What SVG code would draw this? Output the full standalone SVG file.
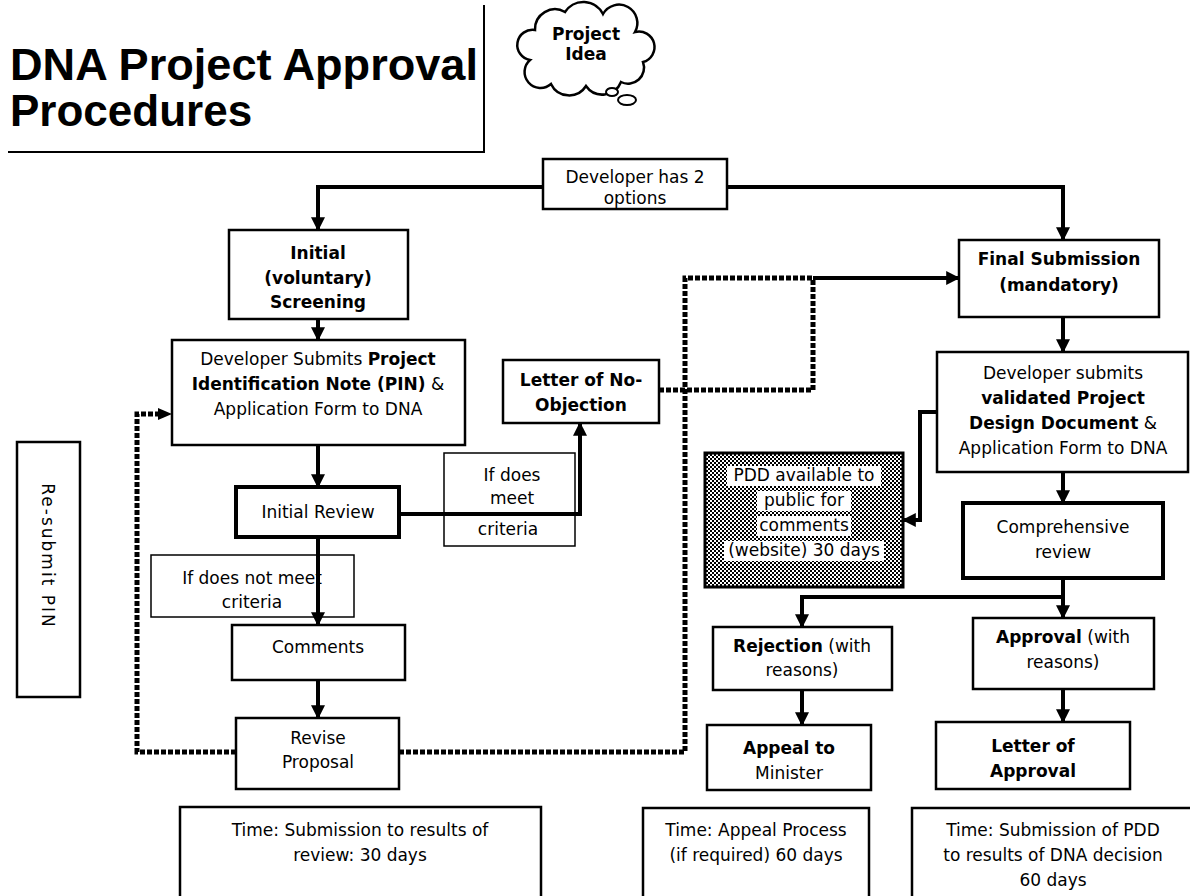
<svg xmlns="http://www.w3.org/2000/svg" width="1190" height="896" viewBox="0 0 1190 896">
<style>
.box{fill:#fff;stroke:#000;stroke-width:2.5}
.bx3{fill:#fff;stroke:#000;stroke-width:4}
.thin{fill:#fff;stroke:#000;stroke-width:1.5}
.t{font-family:"DejaVu Sans","Noto Sans",sans-serif;font-size:17px;fill:#000;text-anchor:middle}
.b{font-weight:bold}
.ttl{font-family:"Liberation Sans",Arial,sans-serif;font-weight:bold;font-size:44px;fill:#000}
.ln{fill:none;stroke:#000;stroke-width:4}
.dot{fill:none;stroke:#000;stroke-width:5;stroke-dasharray:5 2}
.bg{fill:#fff}
</style>
<defs>
<marker id="ah" viewBox="0 0 12 12" refX="11" refY="6" markerWidth="14" markerHeight="14" markerUnits="userSpaceOnUse" orient="auto">
<path d="M0,0 L12,6 L0,12 Z" fill="#000"/>
</marker>
<pattern id="chk" width="4" height="4" patternUnits="userSpaceOnUse">
<rect width="4" height="4" fill="#fff"/>
<rect x="0" y="0" width="2" height="2" fill="#000"/>
<rect x="2" y="2" width="2" height="2" fill="#000"/>
<rect x="1" y="1" width="1" height="1" fill="#000"/>
</pattern>
</defs>
<rect width="1190" height="896" fill="#fff"/>

<g id="title">
<path d="M484,5 V152 H8" fill="none" stroke="#000" stroke-width="2"/>
<text class="ttl" x="10" y="80" textLength="468" lengthAdjust="spacingAndGlyphs">DNA Project Approval</text>
<text class="ttl" x="10" y="126">Procedures</text>
</g>

<g id="idea">
<path d="M530,60 a15,15 0 0 1 5,-30 a20,20 0 0 1 30,-18 a22,22 0 0 1 38,2 a18,18 0 0 1 32,18 a15,15 0 0 1 8,30 a16,16 0 0 1 -22,20 a20,20 0 0 1 -35,4 a20,20 0 0 1 -35,-2 a15,15 0 0 1 -21,-24 z" fill="#fff" stroke="#000" stroke-width="2.5"/>
<ellipse cx="612" cy="92" rx="6" ry="4" fill="#fff" stroke="#000" stroke-width="2"/>
<ellipse cx="627" cy="100" rx="9" ry="5" fill="#fff" stroke="#000" stroke-width="2"/>
<text class="t b" x="586" y="40" font-size="15">Project</text>
<text class="t b" x="586" y="60" font-size="15">Idea</text>
</g>

<g id="options">
<rect class="box" x="543" y="159" width="184" height="50"/>
<text class="t" x="635" y="183">Developer has 2</text>
<text class="t" x="635" y="204">options</text>
</g>

<g id="screening">
<rect class="box" x="229" y="230" width="179" height="89"/>
<text class="t b" x="318" y="259">Initial</text>
<text class="t b" x="318" y="284">(voluntary)</text>
<text class="t b" x="318" y="308">Screening</text>
</g>

<g id="pin">
<rect class="box" x="172" y="340" width="293" height="105"/>
<text class="t" x="318" y="365">Developer Submits <tspan class="b">Project</tspan></text>
<text class="t" x="318" y="390"><tspan class="b">Identification Note (PIN)</tspan> &amp;</text>
<text class="t" x="318" y="415">Application Form to DNA</text>
</g>

<g id="noobjection">
<rect class="box" x="503" y="360" width="156" height="63"/>
<text class="t b" x="581" y="386">Letter of No-</text>
<text class="t b" x="581" y="411">Objection</text>
</g>

<g id="meet">
<rect class="thin" x="444" y="453" width="131" height="93"/>
<text class="t" x="512" y="481">If does</text>
<text class="t" x="512" y="504">meet</text>
<text class="t" x="508" y="535">criteria</text>
</g>

<g id="review">
<rect class="bx3" x="236" y="487" width="163" height="50"/>
<text class="t" x="318" y="518" font-size="18">Initial Review</text>
</g>

<g id="notmeet">
<rect class="thin" x="151" y="555" width="203" height="62"/>
<text class="t" x="252" y="584">If does not meet</text>
<text class="t" x="252" y="608">criteria</text>
</g>

<g id="comments">
<rect class="box" x="232" y="625" width="173" height="55"/>
<text class="t" x="318" y="653">Comments</text>
</g>

<g id="revise">
<rect class="box" x="236" y="718" width="163" height="71"/>
<text class="t" x="318" y="744">Revise</text>
<text class="t" x="318" y="768">Proposal</text>
</g>

<g id="resubmit">
<rect class="box" x="17" y="442" width="63" height="255"/>
<text class="t" x="0" y="0" font-size="18" letter-spacing="2" transform="translate(42,556) rotate(90)">Re-submit PIN</text>
</g>

<g id="final">
<rect class="box" x="959" y="240" width="200" height="77"/>
<text class="t b" x="1059" y="265">Final Submission</text>
<text class="t b" x="1059" y="291">(mandatory)</text>
</g>

<g id="pdd">
<rect class="box" x="937" y="352" width="251" height="120"/>
<text class="t" x="1063" y="379">Developer submits</text>
<text class="t b" x="1063" y="404">validated Project</text>
<text class="t" x="1063" y="429"><tspan class="b">Design Document</tspan> &amp;</text>
<text class="t" x="1063" y="454">Application Form to DNA</text>
</g>

<g id="public">
<rect x="705" y="453" width="198" height="134" fill="url(#chk)" stroke="#000" stroke-width="3"/>
<rect class="bg" x="727" y="466" width="154" height="20"/>
<rect class="bg" x="757" y="491" width="94" height="20"/>
<rect class="bg" x="757" y="516" width="94" height="20"/>
<rect class="bg" x="724" y="541" width="160" height="20"/>
<text class="t" x="804" y="481">PDD available to</text>
<text class="t" x="804" y="506">public for</text>
<text class="t" x="804" y="531">comments</text>
<text class="t" x="804" y="556">(website) 30 days</text>
</g>

<g id="comprehensive">
<rect class="bx3" x="963" y="503" width="200" height="75"/>
<text class="t" x="1063" y="533">Comprehensive</text>
<text class="t" x="1063" y="558">review</text>
</g>

<g id="rejection">
<rect class="box" x="713" y="627" width="179" height="63"/>
<text class="t" x="802" y="652"><tspan class="b">Rejection</tspan> (with</text>
<text class="t" x="802" y="676">reasons)</text>
</g>

<g id="approval">
<rect class="box" x="973" y="618" width="181" height="71"/>
<text class="t" x="1063" y="643"><tspan class="b">Approval</tspan> (with</text>
<text class="t" x="1063" y="668">reasons)</text>
</g>

<g id="appeal">
<rect class="box" x="707" y="725" width="164" height="65"/>
<text class="t b" x="789" y="754">Appeal to</text>
<text class="t" x="789" y="779">Minister</text>
</g>

<g id="letterapproval">
<rect class="box" x="936" y="722" width="194" height="67"/>
<text class="t b" x="1033" y="752">Letter of</text>
<text class="t b" x="1033" y="777">Approval</text>
</g>

<g id="time1">
<rect class="box" x="180" y="807" width="361" height="100"/>
<text class="t" x="360" y="836">Time: Submission to results of</text>
<text class="t" x="360" y="861">review: 30 days</text>
</g>

<g id="time2">
<rect class="box" x="643" y="808" width="226" height="100"/>
<text class="t" x="756" y="836">Time: Appeal Process</text>
<text class="t" x="756" y="861">(if required) 60 days</text>
</g>

<g id="time3">
<rect class="box" x="912" y="808" width="290" height="100"/>
<text class="t" x="1053" y="836">Time: Submission of PDD</text>
<text class="t" x="1053" y="861">to results of DNA decision</text>
<text class="t" x="1053" y="886">60 days</text>
</g>

<g id="connectors">
<path class="ln" d="M543,187 H318 V230" marker-end="url(#ah)"/>
<path class="ln" d="M727,187 H1063 V240" marker-end="url(#ah)"/>
<path class="ln" d="M318,319 V340" marker-end="url(#ah)"/>
<path class="ln" d="M318,445 V487" marker-end="url(#ah)"/>
<path class="ln" d="M399,514 H580 V423" marker-end="url(#ah)"/>
<path class="ln" d="M318,537 V625" marker-end="url(#ah)"/>
<path class="ln" d="M318,680 V718" marker-end="url(#ah)"/>
<path class="dot" d="M236,752 H137 V414 H158"/>
<path d="M158,408 L172,414 L158,420 Z" fill="#000"/>
<path class="dot" d="M399,752 H685 V278 H813"/>
<path class="dot" d="M659,390 H813 V278"/>
<path class="ln" d="M813,278 H959" marker-end="url(#ah)"/>
<path class="ln" d="M1063,317 V352" marker-end="url(#ah)"/>
<path class="ln" d="M937,412 H920 V520 H903" marker-end="url(#ah)"/>
<path class="ln" d="M1063,472 V503" marker-end="url(#ah)"/>
<path class="ln" d="M1063,578 V618" marker-end="url(#ah)"/>
<path class="ln" d="M1063,597 H802 V627" marker-end="url(#ah)"/>
<path class="ln" d="M802,690 V725" marker-end="url(#ah)"/>
<path class="ln" d="M1063,689 V722" marker-end="url(#ah)"/>
</g>
</svg>
